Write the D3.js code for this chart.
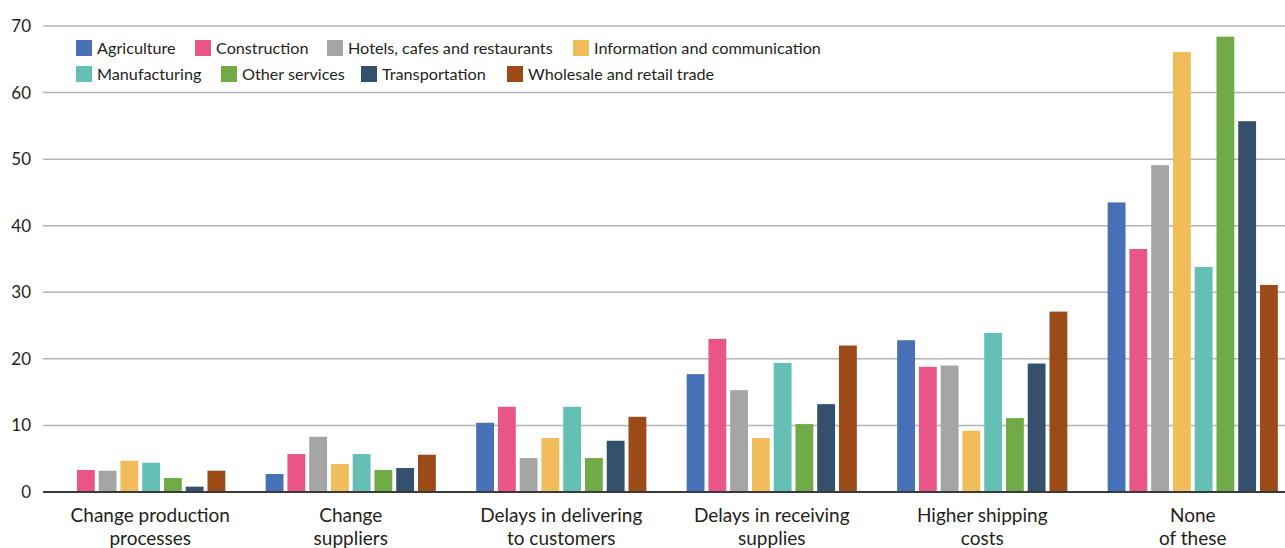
<!DOCTYPE html>
<html>
<head>
<meta charset="utf-8">
<script src="https://cdn.jsdelivr.net/npm/d3@7"></script>
<style>
  html, body { margin: 0; padding: 0; background: #fff; }
  svg { display: block; font-family: "Lato", "Open Sans", sans-serif; }
</style>
</head>
<body>
<svg id="chart" width="1285" height="548"></svg>
<script>
const categories = [
  ["Change production", "processes"],
  ["Change", "suppliers"],
  ["Delays in delivering", "to customers"],
  ["Delays in receiving", "supplies"],
  ["Higher shipping", "costs"],
  ["None", "of these"]
];
const seriesNames = [
  "Agriculture", "Construction", "Hotels, cafes and restaurants", "Information and communication",
  "Manufacturing", "Other services", "Transportation", "Wholesale and retail trade"
];
const seriesColors = ["#4671b6", "#e95587", "#a5a5a5", "#f0bd5a", "#64bfb5", "#70ab47", "#34506d", "#9c4a17"];
// values per series, in category order
const agriculture   = [null, 2.7, 10.4, 17.7, 22.8, 43.5];
const construction  = [3.3, 5.7, 12.8, 23.0, 18.8, 36.5];
const hotels        = [3.2, 8.3, 5.1, 15.3, 19.0, 49.1];
const information   = [4.7, 4.2, 8.1, 8.1, 9.2, 66.1];
const manufacturing = [4.4, 5.7, 12.8, 19.4, 23.9, 33.8];
const otherServices = [2.1, 3.3, 5.1, 10.2, 11.1, 68.4];
const transportation= [0.8, 3.6, 7.7, 13.2, 19.3, 55.7];
const wholesale     = [3.2, 5.6, 11.3, 22.0, 27.1, 31.1];
const yTicks = [0, 10, 20, 30, 40, 50, 60, 70];

const seriesValues = [agriculture, construction, hotels, information, manufacturing, otherServices, transportation, wholesale];

const svg = d3.select("#chart");
const W = 1285, H = 548;

const y = d3.scaleLinear().domain([0, 70]).range([492, 26]);
const x0 = d3.scaleBand().domain(d3.range(categories.length)).range([35, 1298]).paddingInner(0.173).paddingOuter(0.0865);
const x1 = d3.scaleBand().domain(d3.range(seriesNames.length)).range([0, x0.bandwidth()]).paddingInner(0.18).paddingOuter(0.09);

// gridlines
svg.append("g").selectAll("line").data(yTicks.filter(d => d > 0)).join("line")
  .attr("x1", 43).attr("x2", W)
  .attr("y1", d => y(d)).attr("y2", d => y(d))
  .attr("stroke", "#b4b4b4").attr("stroke-width", 1.5);

// y tick labels
svg.append("g").selectAll("text").data(yTicks).join("text")
  .attr("x", 31).attr("y", d => y(d)).attr("dy", "0.35em")
  .attr("text-anchor", "end").attr("font-size", 17).attr("fill", "#231f20")
  .text(d => d);

// bars
const groups = svg.append("g").selectAll("g").data(categories).join("g")
  .attr("transform", (d, i) => `translate(${x0(i)},0)`);
groups.selectAll("rect")
  .data((d, i) => seriesValues.map((s, j) => ({ j, v: s[i] })).filter(e => e.v != null))
  .join("rect")
  .attr("x", d => x1(d.j)).attr("width", x1.bandwidth())
  .attr("y", d => y(d.v)).attr("height", d => y(0) - y(d.v))
  .attr("fill", d => seriesColors[d.j]);

// zero axis
svg.append("line").attr("x1", 43).attr("x2", W).attr("y1", y(0)).attr("y2", y(0))
  .attr("stroke", "#3a3a3a").attr("stroke-width", 1.8);

// category labels
const labelShift = [10, 0, 0, 0, 0, 0];
const labels = svg.append("g").selectAll("text").data(categories).join("text")
  .attr("text-anchor", "middle").attr("font-size", 19).attr("fill", "#231f20")
  .attr("transform", (d, i) => `translate(${x0(i) + x0.bandwidth() / 2 + labelShift[i]},0)`);
labels.selectAll("tspan").data(d => d).join("tspan")
  .attr("x", 0).attr("y", (d, k) => 522 + k * 23).text(d => d);

// legend
const legendPos = [
  [76, 48], [195, 48], [327, 48], [573, 48],
  [76, 74], [221, 74], [361, 74], [507, 74]
];
const leg = svg.append("g").selectAll("g").data(seriesNames).join("g")
  .attr("transform", (d, i) => `translate(${legendPos[i][0]},${legendPos[i][1]})`);
leg.append("rect").attr("x", 0).attr("y", -8).attr("width", 16).attr("height", 16)
  .attr("fill", (d, i) => seriesColors[i]);
leg.append("text").attr("x", 21).attr("y", 0).attr("dy", "0.35em")
  .attr("font-size", 16.2).attr("fill", "#231f20").text(d => d);
</script>
</body>
</html>
